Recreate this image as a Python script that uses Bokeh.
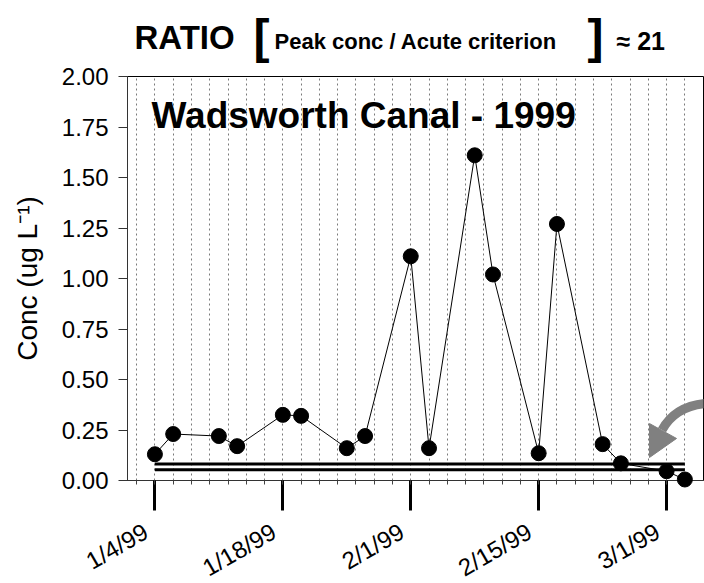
import numpy as np
from bokeh.plotting import figure
from bokeh.models import (Range1d, FixedTicker, NumeralTickFormatter, CustomJSTickFormatter,
                          Label, ColumnDataSource)
from bokeh.core.properties import value
from bokeh.embed import file_html
from bokeh.resources import INLINE

# ---------------- data ----------------
sample_dates = ["1999-01-04", "1999-01-06", "1999-01-11", "1999-01-13", "1999-01-18",
                "1999-01-20", "1999-01-25", "1999-01-27", "1999-02-01", "1999-02-03",
                "1999-02-08", "1999-02-10", "1999-02-15", "1999-02-17", "1999-02-22",
                "1999-02-24", "1999-03-01", "1999-03-03"]
conc = [0.13, 0.23, 0.22, 0.17, 0.325, 0.32, 0.16, 0.22, 1.11, 0.16,
        1.61, 1.02, 0.135, 1.27, 0.18, 0.085, 0.046, 0.005]

tick_dates = ["1999-01-04", "1999-01-18", "1999-02-01", "1999-02-15", "1999-03-01"]
tick_labels = ["1/4/99", "1/18/99", "2/1/99", "2/15/99", "3/1/99"]

criterion_values = [0.082, 0.053]
criterion_span = ["1999-01-04", "1999-03-03"]

y_ticks = [0.0, 0.25, 0.5, 0.75, 1.0, 1.25, 1.5, 1.75, 2.0]

DAY = 86400000.0


def ms(d):
    return float((np.datetime64(d, "ms") - np.datetime64("1970-01-01", "ms")) / np.timedelta64(1, "ms"))


x_dates = [ms(d) for d in sample_dates]
x_start = ms("1999-01-01")
x_end = x_start + 63.04 * DAY
grid_ms = [ms("1999-01-02") + 2 * i * DAY for i in range(31)]
major_ms = [ms(d) for d in tick_dates]

FONT = "Liberation Sans"

p = figure(width=704, height=583, x_axis_type="datetime",
           x_range=Range1d(x_start, x_end), y_range=Range1d(0, 2),
           output_backend="svg", toolbar_location=None,
           min_border_left=127, min_border_right=1, min_border_top=76, min_border_bottom=103)
p.background_fill_color = "white"
p.border_fill_color = "white"
p.outline_line_color = "black"
p.outline_line_width = 1

# grid
p.ygrid.visible = False
p.xgrid.ticker = FixedTicker(ticks=grid_ms)
p.xgrid.grid_line_color = "#7a7a7a"
p.xgrid.grid_line_dash = "2 3"
p.xgrid.grid_line_width = 1

# x axis
xa = p.xaxis[0]
xa.ticker = FixedTicker(ticks=major_ms, minor_ticks=grid_ms)
xa.formatter = CustomJSTickFormatter(code="return ''")
xa.major_tick_in = 0
xa.major_tick_out = 30
xa.major_tick_line_width = 3
xa.major_tick_line_color = "black"
xa.minor_tick_in = 0
xa.minor_tick_out = 4
xa.minor_tick_line_color = "#444444"
xa.axis_line_color = "#333333"
xa.major_label_text_font_size = "1px"

# y axis
ya = p.yaxis[0]
ya.ticker = FixedTicker(ticks=y_ticks)
ya.formatter = NumeralTickFormatter(format="0.00")
ya.major_tick_in = 0
ya.major_tick_out = 9
ya.major_tick_line_color = "#333333"
ya.minor_tick_line_color = None
ya.axis_line_color = "#333333"
ya.major_label_text_font = FONT
ya.major_label_text_font_size = "24px"
ya.major_label_text_color = "black"
ya.major_label_standoff = 10
ya.axis_label = "Conc (ug L\u207b\u00b9)"
ya.axis_label_text_font = FONT
ya.axis_label_text_font_size = "28px"
ya.axis_label_text_font_style = "normal"
ya.axis_label_text_color = "black"
ya.axis_label_standoff = 16

# criterion lines
p.segment(x0=[ms(criterion_span[0])] * 2, x1=[ms(criterion_span[1])] * 2,
          y0=criterion_values, y1=criterion_values, line_color="black", line_width=3)

# data
p.line(x_dates, conc, line_color="black", line_width=1)
p.scatter(x_dates, conc, size=15, fill_color="black", line_color="black", level="overlay")

# grey curved arrow (annotation)
p.quadratic(x0=[x_start + 63.2 * DAY], y0=[0.381], x1=[x_start + 58.5 * DAY], y1=[0.25],
            cx=[x_start + 59.9 * DAY], cy=[0.366], line_color="#808080", line_width=9)
p.patch([x_start + 57.13 * DAY, x_start + 57.13 * DAY, x_start + 60.09 * DAY],
        [0.282, 0.114, 0.208], fill_color="#808080", line_color="#808080")

# x tick labels (rotated), drawn as overlay text so they are not clipped
src = ColumnDataSource(dict(x=major_ms, y=[0] * len(major_ms), text=tick_labels))
p.text(x="x", y="y", text="text", source=src, x_offset=-9, y_offset=49,
       angle=np.pi / 6, text_align="right", text_baseline="alphabetic",
       text_font=value(FONT), text_font_size="24px", text_color="black", level="overlay")


# titles
def lab(text, dx, dy, size):
    p.text(x=[x_start], y=[2.0], text=[text], x_offset=dx, y_offset=dy,
           text_font=value(FONT), text_font_size=size, text_font_style="bold",
           text_align="left", text_baseline="alphabetic", text_color="black", level="overlay")


lab("RATIO", 7, -39, "33px")
lab("[", 126, -40, "48px")
lab("Peak conc / Acute criterion", 147, -35, "22px")
lab("]", 460, -40, "48px")
lab("\u2248 21", 489, -36, "25px")

p.add_layout(Label(x=x_start, y=2.0, x_offset=24, y_offset=-39, text="Wadsworth Canal - 1999",
                   text_font=FONT, text_font_size="37px", text_font_style="bold",
                   text_align="left", text_baseline="alphabetic", text_color="black"))

open("out.html", "w").write(file_html(p, INLINE))
